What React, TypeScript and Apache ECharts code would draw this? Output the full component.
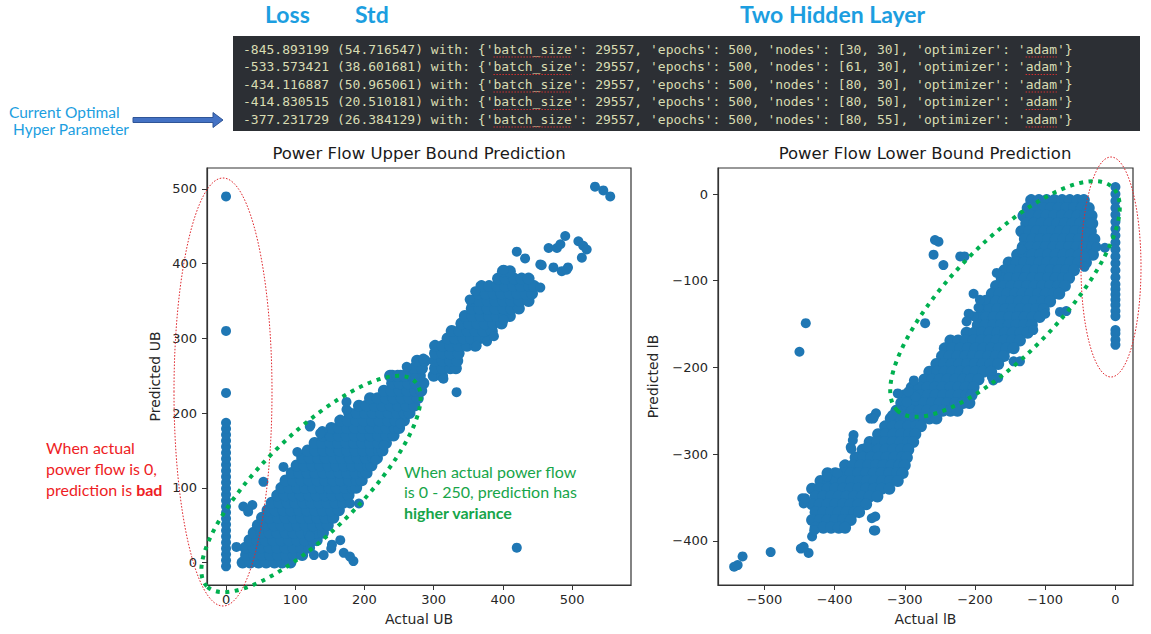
import React, { useEffect, useRef } from 'react';
import * as echarts from 'echarts';

// ---------- texts ----------
const headerLabels = ['Loss', 'Std', 'Two Hidden Layer'];
const codeLines = [
  "-845.893199 (54.716547) with: {'batch_size': 29557, 'epochs': 500, 'nodes': [30, 30], 'optimizer': 'adam'}",
  "-533.573421 (38.601681) with: {'batch_size': 29557, 'epochs': 500, 'nodes': [61, 30], 'optimizer': 'adam'}",
  "-434.116887 (50.965061) with: {'batch_size': 29557, 'epochs': 500, 'nodes': [80, 30], 'optimizer': 'adam'}",
  "-414.830515 (20.510181) with: {'batch_size': 29557, 'epochs': 500, 'nodes': [80, 50], 'optimizer': 'adam'}",
  "-377.231729 (26.384129) with: {'batch_size': 29557, 'epochs': 500, 'nodes': [80, 55], 'optimizer': 'adam'}",
];
const sideLabel = ['Current Optimal', 'Hyper Parameter'];
const redNote = ['When actual', 'power flow is 0,', 'prediction is ', 'bad'];
const greenNote = ['When actual power flow', 'is 0 - 250, prediction has', 'higher variance'];
const titles = ['Power Flow Upper Bound Prediction', 'Power Flow Lower Bound Prediction'];

// ---------- ticks ----------
const ubTicksX = [0, 100, 200, 300, 400, 500];
const ubTicksY = [0, 100, 200, 300, 400, 500];
const lbTicksX = [-500, -400, -300, -200, -100, 0];
const lbTicksY = [-400, -300, -200, -100, 0];

// ---------- Upper bound data ----------
const ubZeroColumnY = [-5, 3, 11, 19, 27, 35, 43, 51, 59, 67, 75, 83, 91, 99, 107, 115, 123, 131, 139, 147, 155, 163, 171, 179, 187, 227, 310, 490];
const ubBandY = [0, 10, 20, 30, 40, 50, 60, 70, 80, 90, 100, 110, 120, 130, 140, 150, 160, 170, 180, 190, 200, 210, 220, 230, 240, 250];
const ubBandX = [
  [24, 35, 47, 58, 70, 81, 93],
  [29, 41, 52, 64, 75, 87, 98, 110],
  [28, 40, 51, 63, 74, 86, 97, 109, 120],
  [34, 45, 57, 68, 80, 91, 103, 114, 126, 131],
  [40, 51, 63, 74, 86, 97, 109, 120, 132, 140],
  [46, 57, 69, 80, 92, 103, 115, 126, 138, 147],
  [52, 63, 75, 86, 98, 109, 121, 132, 144, 155],
  [60, 71, 83, 94, 106, 117, 129, 140, 152, 163],
  [66, 77, 89, 100, 112, 123, 135, 146, 158, 169],
  [74, 85, 97, 108, 120, 131, 143, 154, 166, 177],
  [80, 91, 103, 114, 126, 137, 149, 160, 172, 183, 188],
  [86, 97, 109, 120, 132, 143, 155, 166, 178, 189, 196],
  [95, 106, 118, 129, 141, 152, 164, 175, 187, 198, 203],
  [102, 113, 125, 136, 148, 159, 171, 182, 194, 205, 210],
  [110, 121, 133, 144, 156, 167, 179, 190, 202, 213, 218],
  [118, 129, 141, 152, 164, 175, 187, 198, 210, 221, 226],
  [128, 139, 151, 162, 174, 185, 197, 208, 220, 231],
  [140, 151, 163, 174, 186, 197, 209, 220, 232, 242],
  [152, 163, 175, 186, 198, 209, 221, 232, 244, 250],
  [165, 176, 188, 199, 211, 222, 234, 245, 257],
  [178, 189, 201, 212, 224, 235, 247, 258, 265],
  [192, 203, 215, 226, 238, 249, 261, 272],
  [208, 219, 231, 242, 254, 265, 277],
  [228, 239, 251, 262, 274, 282],
  [240, 251, 263, 274, 285],
  [240, 252, 262],
];
const ubUpperY = [250, 260, 270, 280, 290, 300, 310, 320, 330, 340, 350, 360, 370, 380, 390];
const ubUpperX = [
  [237, 248, 258, 270, 280, 300, 312],
  [272, 283, 302, 313, 324, 332],
  [276, 287, 302, 313, 324, 334],
  [302, 313, 324, 336],
  [302, 313, 324, 336, 348, 360],
  [320, 331, 343, 354, 366, 376],
  [326, 337, 349, 360, 372, 384],
  [340, 351, 363, 374, 386, 398],
  [345, 356, 368, 380, 391, 402, 410],
  [355, 366, 378, 389, 401, 412, 423],
  [355, 366, 378, 389, 401, 412, 424, 437],
  [364, 375, 387, 398, 410, 421, 433, 442],
  [369, 380, 392, 403, 415, 426, 438, 445],
  [393, 404, 416, 427, 437],
  [400, 410],
];
const ubOutliers = [
  [15, 21], [25, 75], [38, 77], [32, 68], [54, 108], [83, 128], [103, 148], [122, 184], [139, 176], [121, 182], [136, 173],
  [141, 10], [127, 10], [152, 19], [165, 30], [170, 13], [184, 2], [179, 8], [153, 24], [121, 35],
  [179, 79], [192, 79], [216, 137], [228, 157], [252, 186], [174, 205], [174, 215],
  [261, 262], [273, 247], [285, 273], [314, 246], [333, 228], [420, 20],
  [362, 290], [377, 296], [387, 303], [401, 325], [360, 363], [352, 352],
  [420, 416], [432, 407], [454, 399], [473, 395], [485, 390], [494, 395], [466, 421], [478, 421], [490, 437], [483, 426],
  [509, 430], [516, 424], [521, 419], [514, 408], [454, 368], [401, 392], [456, 398], [492, 392],
  [533, 503], [545, 498], [555, 490],
];

// ---------- Lower bound data ----------
const lbZeroColumnY = [8, 0, -8, -16, -24, -32, -40, -48, -56, -64, -72, -80, -88, -96, -104, -110, -116, -122, -128, -135, -141, -157, -161, -168, -174];
const lbBandY = [-7, -16, -25, -34, -43, -52, -61, -70, -79, -88, -97, -106, -115, -124, -133, -142, -151, -160, -169, -178, -187, -196, -205, -214, -223, -232, -241, -250, -259, -268, -277, -286, -295, -304, -313, -322, -331, -340, -349, -358, -367, -376, -385];
const lbBandX = [
  [-120, -109, -98, -87, -76, -65, -54, -45],
  [-125, -114, -103, -92, -81, -70, -59, -48, -38],
  [-131, -120, -109, -98, -87, -76, -65, -54, -43, -34],
  [-127, -116, -105, -94, -83, -72, -61, -50, -39, -33],
  [-134, -123, -112, -101, -90, -79, -68, -57, -46, -35],
  [-129, -118, -107, -96, -85, -74, -63, -52, -41, -30],
  [-132, -121, -110, -99, -88, -77, -66, -55, -44, -33],
  [-140, -129, -118, -107, -96, -85, -74, -63, -52, -41, -32],
  [-152, -141, -130, -119, -108, -97, -86, -75, -64, -53, -42],
  [-158, -147, -136, -125, -114, -103, -92, -81, -70, -59],
  [-162, -151, -140, -129, -118, -107, -96, -85, -74, -66],
  [-170, -159, -148, -137, -126, -115, -104, -93, -82, -72],
  [-176, -165, -154, -143, -132, -121, -110, -99, -88, -80],
  [-181, -170, -159, -148, -137, -126, -115, -104, -93],
  [-190, -179, -168, -157, -146, -135, -124, -113, -102],
  [-195, -184, -173, -162, -151, -140, -129, -118, -108],
  [-196, -185, -174, -163, -152, -141, -130, -119],
  [-212, -201, -190, -179, -168, -157, -146, -135, -125],
  [-235, -224, -213, -202, -191, -180, -169, -158, -147, -136],
  [-243, -232, -221, -210, -199, -188, -177, -166, -155, -145],
  [-247, -236, -225, -214, -203, -192, -181, -170, -159],
  [-255, -244, -233, -222, -211, -200, -189, -178, -167],
  [-265, -254, -243, -232, -221, -210, -199, -188, -177],
  [-272, -261, -250, -239, -228, -217, -206, -195],
  [-290, -279, -268, -257, -246, -235, -224, -213, -202],
  [-300, -289, -278, -267, -256, -245, -234, -223, -212, -205],
  [-305, -294, -283, -272, -261, -250, -239, -228, -217, -208],
  [-312, -301, -290, -279, -268, -257, -246, -235, -225],
  [-320, -309, -298, -287, -276, -265, -255],
  [-328, -317, -306, -295, -284, -277],
  [-338, -327, -316, -305, -294, -285],
  [-350, -339, -328, -317, -306, -295, -288],
  [-360, -349, -338, -327, -316, -305, -295],
  [-370, -359, -348, -337, -326, -315, -304, -297],
  [-385, -374, -363, -352, -341, -330, -319, -308, -300],
  [-410, -399, -388, -377, -366, -355, -344, -333, -322, -311, -303],
  [-420, -409, -398, -387, -376, -365, -354, -343, -332, -321, -310],
  [-432, -421, -410, -399, -388, -377, -366, -355, -344, -333, -322],
  [-427, -416, -405, -394, -383, -372, -361, -350, -339],
  [-432, -421, -410, -399, -388, -377, -366, -355],
  [-427, -416, -405, -394, -383, -372, -365],
  [-432, -421, -410, -399, -388, -377],
  [-427, -416, -405, -394, -385],
];
const lbOutliers = [
  [-441, -149], [-450, -182], [-259, -70], [-252, -55], [-257, -53], [-245, -82], [-221, -72], [-215, -72],
  [-271, -149], [-195, -131], [-185, -122], [-202, -141], [-169, -91], [-134, -64], [-70, -135], [-117, -157],
  [-136, -193], [-167, -212], [-15, -62], [-27, -61], [-44, -72], [-44, -84], [-36, -34], [-79, -136], [-100, -138],
  [-145, -193], [-176, -211], [-174, -215], [-202, -115], [-193, -122], [-209, -138], [-212, -147],
  [-287, -215], [-285, -234], [-297, -240], [-311, -249], [-318, -255], [-344, -257], [-349, -259],
  [-373, -278], [-377, -292], [-354, -292], [-374, -284], [-376, -294], [-396, -322], [-411, -326],
  [-446, -351], [-444, -357], [-442, -351], [-347, -374], [-344, -388], [-342, -372], [-342, -388],
  [-538, -428], [-531, -418], [-543, -430], [-491, -413], [-448, -409], [-437, -414], [-432, -395],
  [-444, -407], [-429, -388], [-341, -253], [-345, -259], [-295, -228], [-310, -230],
];

const rowsToPoints = (ys: number[], xs: number[][]) => ys.flatMap((y, i) => xs[i].map((x) => [x, y]));

const ubDense = [...rowsToPoints(ubBandY, ubBandX), ...rowsToPoints(ubUpperY, ubUpperX)];
const ubSparse = [...ubZeroColumnY.map((y) => [0, y]), ...ubOutliers];
const lbDense = rowsToPoints(lbBandY, lbBandX);
const lbSparse = [...lbZeroColumnY.map((y) => [0, y]), ...lbOutliers];

const TICK_FONT = 'DejaVu Sans';
const minusFmt = (v: number) => String(v).replace('-', '\u2212');

function xAxis(gridIndex: number, min: number, max: number, ticks: number[], name: string) {
  return {
    type: 'value', gridIndex, min, max,
    name, nameLocation: 'middle', nameGap: 27,
    nameTextStyle: { fontFamily: TICK_FONT, fontSize: 14, color: '#262626' },
    axisLine: { show: true, onZero: false, lineStyle: { color: '#333', width: 1.2 } },
    axisTick: { show: true, length: 5, customValues: ticks, lineStyle: { color: '#333', width: 1 } },
    axisLabel: { customValues: ticks, formatter: minusFmt, fontFamily: TICK_FONT, fontSize: 13, color: '#262626', margin: 8 },
    splitLine: { show: false },
  };
}
function yAxis(gridIndex: number, min: number, max: number, ticks: number[], name: string, gap: number) {
  return {
    type: 'value', gridIndex, min, max,
    name, nameLocation: 'middle', nameGap: gap, nameRotate: 90,
    nameTextStyle: { fontFamily: TICK_FONT, fontSize: 14, color: '#262626' },
    axisLine: { show: true, onZero: false, lineStyle: { color: '#333', width: 1.2 } },
    axisTick: { show: true, length: 5, customValues: ticks, lineStyle: { color: '#333', width: 1 } },
    axisLabel: { customValues: ticks, formatter: minusFmt, fontFamily: TICK_FONT, fontSize: 13, color: '#262626', margin: 10 },
    splitLine: { show: false },
  };
}

const HEADER_BLUE = '#1c9ee0';
const deg = Math.PI / 180;

function buildGraphics() {
  const g: any[] = [];
  const headerX = [265, 355, 740];
  headerLabels.forEach((t, i) => {
    g.push({ type: 'text', x: headerX[i], y: 14, z: 100, style: { text: t, fill: HEADER_BLUE, fontFamily: 'Lato', fontWeight: 'bold', fontSize: 23, textVerticalAlign: 'middle' } });
  });
  g.push({ type: 'rect', z: 90, shape: { x: 233, y: 36, width: 907, height: 95 }, style: { fill: '#2c2f34' } });
  codeLines.forEach((line, i) => {
    const y = 49 + i * 17.5;
    g.push({ type: 'text', x: 243, y, z: 100, style: { text: line, fill: '#d8dcb2', fontFamily: 'DejaVu Sans Mono', fontSize: 13, textVerticalAlign: 'middle' } });
    const cw = 7.826;
    g.push({ type: 'line', z: 101, shape: { x1: 243 + 32 * cw, y1: y + 8, x2: 243 + 42 * cw, y2: y + 8 }, style: { stroke: '#d23030', lineWidth: 1, lineDash: [1.5, 1.5] } });
    g.push({ type: 'line', z: 101, shape: { x1: 243 + 100 * cw, y1: y + 8, x2: 243 + 104 * cw, y2: y + 8 }, style: { stroke: '#d23030', lineWidth: 1, lineDash: [1.5, 1.5] } });
  });
  g.push({ type: 'text', x: 9, y: 112, z: 100, style: { text: sideLabel[0], fill: HEADER_BLUE, fontFamily: 'Lato', fontSize: 15.5, textVerticalAlign: 'middle' } });
  g.push({ type: 'text', x: 13, y: 129, z: 100, style: { text: sideLabel[1], fill: HEADER_BLUE, fontFamily: 'Lato', fontSize: 15.5, textVerticalAlign: 'middle' } });
  g.push({ type: 'polygon', z: 100, shape: { points: [[133, 117.5], [213, 117.5], [213, 112.5], [223, 120], [213, 127.5], [213, 122.5], [133, 122.5]] }, style: { fill: '#4472c4', stroke: '#2f5597', lineWidth: 1 } });

  // titles
  g.push({ type: 'text', x: 419, y: 153, z: 100, style: { text: titles[0], fill: '#1a1a1a', fontFamily: TICK_FONT, fontSize: 16.5, textAlign: 'center', textVerticalAlign: 'middle' } });
  g.push({ type: 'text', x: 925, y: 153, z: 100, style: { text: titles[1], fill: '#1a1a1a', fontFamily: TICK_FONT, fontSize: 16.5, textAlign: 'center', textVerticalAlign: 'middle' } });

  // red note
  const red = '#ee1d25';
  g.push({ type: 'text', x: 46, y: 447, z: 100, style: { text: redNote[0], fill: red, fontFamily: 'Lato', fontSize: 16, textVerticalAlign: 'middle' } });
  g.push({ type: 'text', x: 46, y: 468, z: 100, style: { text: redNote[1], fill: red, fontFamily: 'Lato', fontSize: 16, textVerticalAlign: 'middle' } });
  g.push({ type: 'text', x: 46, y: 489, z: 100, style: { text: '{a|' + redNote[2] + '}{b|' + redNote[3] + '}', fill: red, fontFamily: 'Lato', fontSize: 16, textVerticalAlign: 'middle', rich: { a: { fill: red, fontFamily: 'Lato', fontSize: 16 }, b: { fill: red, fontFamily: 'Lato', fontSize: 16, fontWeight: 'bold' } } } });

  // green note
  const green = '#17a54a';
  greenNote.forEach((t, i) => {
    g.push({ type: 'text', x: 404, y: 471 + i * 20.5, z: 100, style: { text: t, fill: green, fontFamily: 'Lato', fontSize: 16, fontWeight: i === 2 ? 'bold' : 'normal', textVerticalAlign: 'middle' } });
  });

  // ellipses
  const redDot = { fill: 'none', stroke: '#e0282e', lineWidth: 1, lineDash: [1.6, 1.6] };
  const greenDot = { fill: 'none', stroke: '#00b050', lineWidth: 4, lineDash: [4, 5.5] };
  g.push({ type: 'ellipse', z: 110, x: 223, y: 392, shape: { cx: 0, cy: 0, rx: 49, ry: 214 }, style: redDot });
  g.push({ type: 'ellipse', z: 110, x: 1111, y: 267, shape: { cx: 0, cy: 0, rx: 30, ry: 110 }, style: redDot });
  g.push({ type: 'ellipse', z: 110, x: 311, y: 484, rotation: 44.5 * deg, shape: { cx: 0, cy: 0, rx: 146, ry: 49 }, style: greenDot });
  g.push({ type: 'ellipse', z: 110, x: 1005, y: 299, rotation: 46 * deg, shape: { cx: 0, cy: 0, rx: 155, ry: 55 }, style: greenDot });
  return g;
}

export default function App() {
  const ref = useRef<HTMLDivElement>(null);
  useEffect(() => {
    const chart = echarts.init(ref.current!, null, { renderer: 'svg' });
    const scatterStyle = { color: '#1f77b4', opacity: 1, borderWidth: 0 };
    const sc = (xi: number, data: number[][], size: number) => ({
      type: 'scatter', xAxisIndex: xi, yAxisIndex: xi, data, symbol: 'circle', symbolSize: size, itemStyle: scatterStyle, silent: true,
    });
    chart.setOption({
      animation: false,
      backgroundColor: '#ffffff',
      grid: [
        { left: 207, top: 168, width: 424, height: 417, show: true, borderColor: '#333', borderWidth: 1.2, backgroundColor: 'transparent' },
        { left: 718, top: 168, width: 415, height: 417, show: true, borderColor: '#333', borderWidth: 1.2, backgroundColor: 'transparent' },
      ],
      xAxis: [
        xAxis(0, -27.5, 585, ubTicksX, 'Actual UB'),
        xAxis(1, -566, 25, lbTicksX, 'Actual lB'),
      ],
      yAxis: [
        yAxis(0, -30, 528, ubTicksY, 'Predicted UB', 45),
        yAxis(1, -451, 30, lbTicksY, 'Predicted lB', 58),
      ],
      series: [
        sc(0, ubDense, 12),
        sc(0, ubSparse, 10),
        sc(1, lbDense, 12),
        sc(1, lbSparse, 10),
      ],
      graphic: buildGraphics(),
    });
    return () => chart.dispose();
  }, []);
  return <div ref={ref} style={{ position: 'fixed', left: 0, top: 0, width: 1151, height: 634, background: '#fff' }} />;
}
